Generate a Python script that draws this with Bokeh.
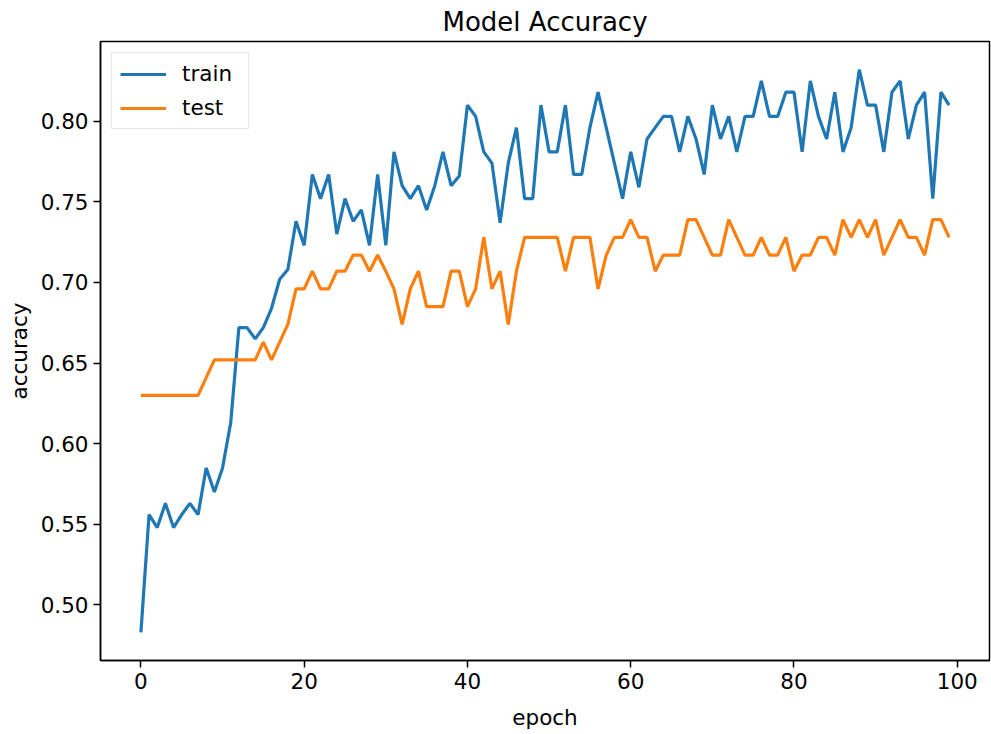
from bokeh.plotting import figure
from bokeh.models import Range1d, FixedTicker, NumeralTickFormatter, Legend, LegendItem, Title
from bokeh.embed import file_html
from bokeh.resources import INLINE

epochs = list(range(100))
train_acc = [0.483, 0.556, 0.548, 0.563, 0.548, 0.556, 0.563, 0.556, 0.585, 0.570,
             0.585, 0.613, 0.672, 0.672, 0.665, 0.672, 0.684, 0.702, 0.708, 0.738,
             0.723, 0.767, 0.752, 0.767, 0.730, 0.752, 0.738, 0.745, 0.723, 0.767,
             0.723, 0.781, 0.760, 0.752, 0.760, 0.745, 0.760, 0.781, 0.760, 0.766,
             0.810, 0.803, 0.781, 0.774, 0.737, 0.774, 0.796, 0.752, 0.752, 0.810,
             0.781, 0.781, 0.810, 0.767, 0.767, 0.796, 0.818, 0.796, 0.774, 0.752,
             0.781, 0.759, 0.789, 0.796, 0.803, 0.803, 0.781, 0.803, 0.789, 0.767,
             0.810, 0.789, 0.803, 0.781, 0.803, 0.803, 0.825, 0.803, 0.803, 0.818,
             0.818, 0.781, 0.825, 0.803, 0.789, 0.818, 0.781, 0.796, 0.832, 0.810,
             0.810, 0.781, 0.818, 0.825, 0.789, 0.810, 0.818, 0.752, 0.818, 0.810]
test_acc = [0.630, 0.630, 0.630, 0.630, 0.630, 0.630, 0.630, 0.630, 0.641, 0.652,
            0.652, 0.652, 0.652, 0.652, 0.652, 0.663, 0.652, 0.663, 0.674, 0.696,
            0.696, 0.707, 0.696, 0.696, 0.707, 0.707, 0.717, 0.717, 0.707, 0.717,
            0.707, 0.696, 0.674, 0.696, 0.707, 0.685, 0.685, 0.685, 0.707, 0.707,
            0.685, 0.696, 0.728, 0.696, 0.707, 0.674, 0.707, 0.728, 0.728, 0.728,
            0.728, 0.728, 0.707, 0.728, 0.728, 0.728, 0.696, 0.717, 0.728, 0.728,
            0.739, 0.728, 0.728, 0.707, 0.717, 0.717, 0.717, 0.739, 0.739, 0.728,
            0.717, 0.717, 0.739, 0.728, 0.717, 0.717, 0.728, 0.717, 0.717, 0.728,
            0.707, 0.717, 0.717, 0.728, 0.728, 0.717, 0.739, 0.728, 0.739, 0.728,
            0.739, 0.717, 0.728, 0.739, 0.728, 0.728, 0.717, 0.739, 0.739, 0.728]
x_ticks = [0, 20, 40, 60, 80, 100]
y_ticks = [0.50, 0.55, 0.60, 0.65, 0.70, 0.75, 0.80]

FONT = "DejaVu Sans"

all_y = train_acc + test_acc
ylo, yhi = min(all_y), max(all_y)
ypad = 0.05 * (yhi - ylo)
xlo, xhi = min(epochs), max(epochs)
xpad = 0.05 * (xhi - xlo)

p = figure(width=991, height=734, output_backend="svg", toolbar_location=None,
           x_range=Range1d(xlo - xpad, xhi + xpad),
           y_range=Range1d(ylo - ypad, yhi + ypad),
           min_border_left=100, min_border_right=2, min_border_top=41, min_border_bottom=74)

p.title = Title(text="Model Accuracy", align="center", text_font=FONT,
                text_font_size="26px", text_font_style="normal", text_color="black",
                standoff=9, offset=0)

r1 = p.line(epochs, train_acc, line_color="#1f77b4", line_width=3.2)
r2 = p.line(epochs, test_acc, line_color="#ff7f0e", line_width=3.2)

p.xgrid.visible = False
p.ygrid.visible = False
p.outline_line_color = "black"
p.outline_line_width = 1.5
p.background_fill_color = "white"
p.border_fill_color = "white"

for ax in (p.xaxis[0], p.yaxis[0]):
    ax.major_label_text_font = FONT
    ax.major_label_text_font_size = "21.5px"
    ax.major_label_text_color = "black"
    ax.axis_label_text_font = FONT
    ax.axis_label_text_font_size = "21.5px"
    ax.axis_label_text_font_style = "normal"
    ax.axis_label_text_color = "black"
    ax.major_tick_out = 7
    ax.major_tick_in = 0
    ax.minor_tick_out = 0
    ax.minor_tick_in = 0
    ax.major_tick_line_color = "black"
    ax.major_tick_line_width = 1.5
    ax.axis_line_color = "black"
    ax.axis_line_width = 1.5

p.xaxis.axis_label = "epoch"
p.yaxis.axis_label = "accuracy"
p.xaxis.ticker = FixedTicker(ticks=x_ticks)
p.yaxis.ticker = FixedTicker(ticks=y_ticks)
p.yaxis.formatter = NumeralTickFormatter(format="0.00")
p.xaxis.major_label_standoff = 5
p.xaxis.axis_label_standoff = 13
p.yaxis.major_label_standoff = 5
p.yaxis.axis_label_standoff = 6

legend = Legend(items=[LegendItem(label="train", renderers=[r1]),
                       LegendItem(label="test", renderers=[r2])],
                location="top_left", margin=11, padding=8, spacing=9,
                label_text_font=FONT, label_text_font_size="21.5px", label_text_color="black",
                label_standoff=16, glyph_width=46, glyph_height=24, label_height=24,
                label_width=58,
                border_line_color="#d0d0d0", border_line_width=1.5,
                background_fill_color="white", background_fill_alpha=0.8)
p.add_layout(legend)

open("out.html", "w").write(file_html(p, INLINE))
